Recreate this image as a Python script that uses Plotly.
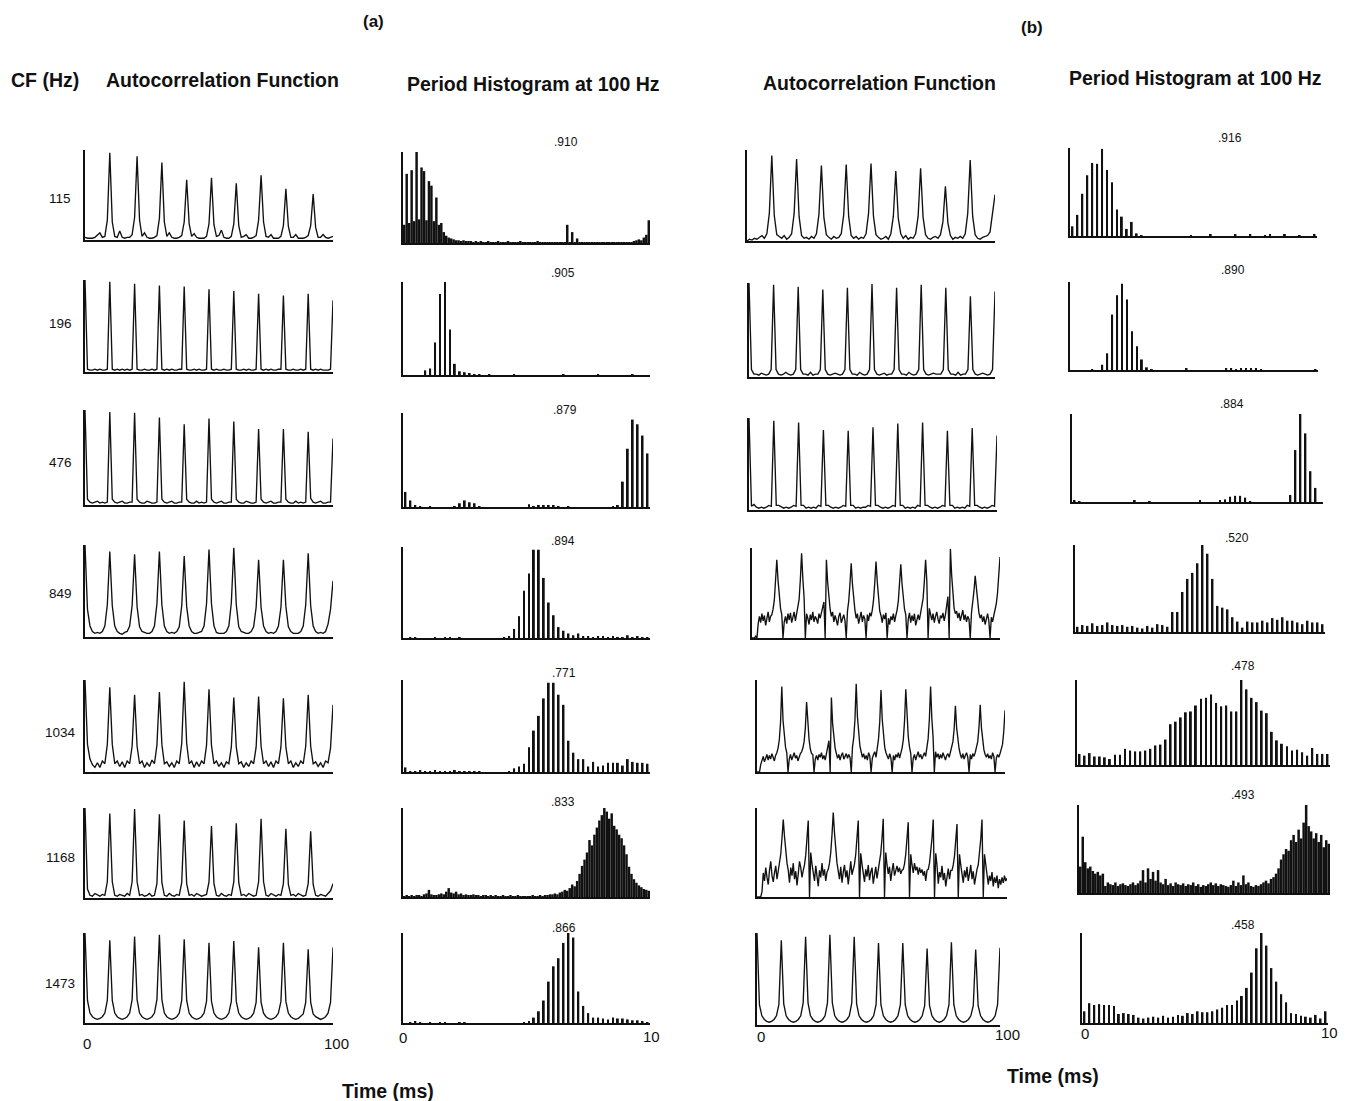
import numpy as np
import plotly.graph_objects as go

W, H = 1348, 1101
OFF = 8  # page body margin compensation (pixels)

# ---------------- text data ----------------
cf_labels = ["115", "196", "476", "849", "1034", "1168", "1473"]
vs_a = [".910", ".905", ".879", ".894", ".771", ".833", ".866"]
vs_b = [".916", ".890", ".884", ".520", ".478", ".493", ".458"]

# ---------------- autocorrelation functions, panel (a), 1 ms steps, 0..100 ms (% of max) ----------------
acf_a_115 = [3,2,2,2,3,5,8,3,4,22, 97,20,4,3,10,3,2,3,3,6, 25,93,22,4,8,3,2,2,3,5,
             24,86,20,4,8,3,2,2,3,5, 20,67,18,4,7,3,2,2,2,4, 18,69,17,4,5,11,3,2,2,4,
             18,63,16,3,4,6,2,2,3,5, 22,72,20,4,3,6,2,2,2,4, 16,57,15,3,3,6,2,2,2,3,
             5,16,51,14,3,3,6,3,2,3, 4]
acf_a_196 = [100,3,2,2,3,2,3,2,2,3, 98,3,2,3,2,3,2,3,2,3, 96,3,2,2,3,2,2,3,2,3,
             94,3,2,3,2,3,2,2,3,3, 93,3,2,2,3,2,3,2,2,3, 90,3,2,3,2,2,3,2,2,3,
             88,3,2,2,3,2,3,2,2,3, 85,3,2,3,2,3,2,2,3,3, 83,3,2,2,3,2,2,3,2,3,
             85,3,2,3,2,3,2,2,2,3, 78]
acf_a_476 = [100,6,3,2,3,4,2,3,2,3, 98,6,3,2,3,4,2,2,3,3, 97,6,3,2,2,4,3,2,2,3,
             92,6,3,2,3,4,2,2,3,3, 85,6,3,2,2,4,2,3,2,3, 91,6,3,2,3,4,2,2,3,3,
             88,6,3,2,2,4,3,2,2,3, 80,6,3,2,3,4,2,2,3,3, 80,6,3,2,2,4,2,3,2,3,
             77,7,3,2,3,4,2,2,3,3, 70]
acf_a_849 = [100,30,12,6,4,5,4,6,12,35, 93,34,12,6,4,3,5,6,12,34, 90,33,11,6,5,4,4,6,12,36,
             93,35,12,6,4,5,4,6,11,34, 88,33,12,6,4,4,5,6,12,36, 95,36,12,5,4,4,4,6,12,37,
             97,35,11,6,5,4,4,6,11,32, 84,32,12,6,4,5,4,6,12,32, 84,33,11,6,4,4,4,6,12,35,
             91,34,12,6,4,5,4,6,14,30, 61]
acf_a_1034 = [100,30,14,8,5,10,5,12,9,30, 92,30,9,12,6,11,5,12,9,28, 84,28,9,12,5,10,6,13,9,29,
              87,30,9,11,6,10,5,12,9,31, 98,31,9,12,5,11,6,12,9,29, 90,29,9,12,6,10,5,11,9,27,
              81,27,9,11,5,10,6,12,9,27, 82,28,9,12,6,11,5,12,9,27, 80,27,9,12,5,10,6,12,9,28,
              84,28,9,11,6,10,5,12,10,26, 73]
acf_a_1168 = [100,10,3,2,5,3,2,4,3,18, 94,18,3,2,4,3,2,5,3,18, 99,18,3,4,2,3,5,2,3,16,
              93,17,3,2,5,3,2,4,3,17, 86,16,3,4,2,5,3,2,3,4, 18,80,16,3,2,5,3,2,4,3,
              18,83,17,3,4,2,5,3,2,3, 18,88,18,3,2,5,3,2,4,3, 16,77,15,3,4,2,5,3,2,3,
              16,74,15,3,2,4,3,2,5,8, 16]
acf_a_1473 = [100,25,11,7,5,4,5,7,11,25, 92,25,11,7,5,4,5,7,11,26, 96,26,11,7,5,4,5,7,11,26,
              98,26,11,7,5,4,5,7,11,25, 93,25,11,7,5,4,5,7,11,24, 89,24,11,7,5,4,5,7,11,24,
              91,24,11,7,5,4,5,7,11,23, 84,23,11,7,5,4,5,7,11,24, 89,24,11,7,5,4,5,7,10,23,
              82,23,10,7,5,4,5,7,11,23, 84]

# ---------------- autocorrelation functions, panel (b) ----------------
acf_b_115 = [0,2,1,3,2,4,6,3,8,30, 94,28,7,5,3,6,2,4,8,30, 90,27,6,3,4,2,5,3,8,29,
             83,26,7,4,2,5,3,4,8,29, 84,27,6,3,5,2,4,3,8,30, 85,27,7,4,2,3,5,2,8,27,
             77,25,8,3,6,2,4,3,8,27, 80,26,7,3,2,4,5,3,7,21, 60,20,6,2,4,3,5,3,8,30,
             89,27,7,3,2,4,5,6,10,30, 51]
acf_b_196 = [100,8,3,3,2,4,3,2,3,8, 98,8,3,2,3,5,3,2,3,8, 96,8,3,3,2,5,2,3,3,8,
             93,8,3,2,3,4,3,2,3,8, 95,8,3,3,2,5,3,2,3,8, 99,8,3,2,3,4,2,3,3,8,
             95,8,3,3,2,5,3,2,3,8, 98,8,3,2,3,4,3,3,3,8, 95,8,3,3,2,5,2,3,3,8,
             86,8,3,2,3,4,3,2,3,8, 91]
acf_b_476 = [100,4,6,3,2,3,2,3,5,4, 97,5,5,3,2,3,2,3,5,4, 95,5,5,2,3,2,3,2,5,4,
             87,5,5,3,2,3,2,3,5,4, 86,5,5,2,3,2,3,3,5,4, 90,5,5,3,2,3,2,3,5,4,
             94,5,5,2,3,2,3,2,5,4, 95,5,5,3,2,3,2,3,5,4, 86,5,5,2,3,2,3,2,5,4,
             89,5,5,3,2,3,2,3,5,4, 81]
# noisy ones: 0.5 ms steps, 0..100 ms
acf_b_849 = [0,0,0,2,0,16,24,17,27,19,25,14,22,29,18,24,26,32,42,62,
             87,64,44,33,26,0,18,24,16,27,20,28,17,23,29,19,27,33,43,65,
             94,66,45,0,27,22,15,26,20,29,18,24,21,16,27,22,28,34,40,0,
             87,62,44,32,24,29,18,25,20,14,24,28,17,23,26,19,0,30,41,60,
             83,60,42,31,22,27,16,24,29,18,25,21,0,26,19,28,24,31,42,61,
             85,63,43,30,25,17,26,21,28,0,22,15,24,20,27,18,25,31,41,58,
             82,60,42,32,26,0,21,28,17,25,19,27,14,22,26,20,27,33,44,63,
             87,63,0,33,26,20,27,17,24,29,21,16,25,22,28,19,26,34,46,0,
             99,70,46,33,27,30,22,28,19,25,31,20,26,18,24,21,0,28,38,52,
             69,52,38,28,22,26,18,24,15,22,27,19,0,23,18,25,30,38,50,68,
             90]
acf_b_1034 = [0,0,0,8,14,17,11,16,19,13,18,14,20,16,12,18,21,26,35,54,
              93,56,37,27,21,0,14,19,13,17,21,15,18,12,17,20,22,26,33,48,
              76,50,35,25,20,19,0,14,18,13,19,16,21,14,18,13,20,26,34,0,
              81,52,36,26,20,15,19,13,18,21,14,17,20,15,19,16,0,27,37,57,
              96,60,39,28,22,16,20,14,18,13,21,17,0,15,19,22,16,27,36,55,
              89,57,37,27,21,17,14,20,15,0,18,13,19,16,21,15,20,26,35,56,
              90,58,38,27,20,0,15,19,13,18,22,16,19,14,18,21,17,27,36,57,
              93,58,38,0,22,16,20,14,19,15,21,17,13,18,20,16,22,26,33,47,
              72,48,33,25,19,15,20,14,18,21,16,0,19,14,20,17,21,26,33,48,
              73,48,33,24,19,16,20,15,18,14,21,17,0,15,19,16,20,24,30,44,
              67]
acf_b_1168 = [0,0,0,0,6,27,18,33,22,14,30,40,24,17,27,35,20,30,36,48,
              66,87,68,50,38,30,16,33,24,38,20,29,13,26,40,33,22,30,36,47,
              65,86,0,50,37,28,18,35,26,12,30,22,38,24,31,18,28,31,38,50,
              70,95,72,52,38,29,20,34,16,28,36,22,30,14,27,40,25,30,37,48,
              65,86,0,49,37,27,17,31,23,36,19,28,33,15,26,34,21,30,37,49,
              66,88,0,50,36,26,34,18,29,38,24,31,35,28,33,26,30,31,37,48,
              64,84,0,48,36,27,38,30,34,25,33,27,31,24,29,18,30,31,38,49,
              66,87,0,49,36,15,28,22,35,19,27,12,25,32,20,30,30,36,46,62,
              82,0,48,36,28,16,30,22,34,18,26,36,20,29,14,25,31,36,48,65,
              87,0,48,36,27,14,24,18,28,12,22,16,24,10,20,14,22,16,24,18,
              21]
acf_b_1473 = [100,22,10,6,4,3,4,6,10,22, 92,23,10,6,4,3,4,6,10,24, 96,24,10,6,4,3,4,6,10,24,
              98,24,10,6,4,3,4,6,10,24, 96,23,10,6,4,3,4,6,10,22, 89,22,10,6,4,3,4,6,10,22,
              89,22,10,6,4,3,4,6,10,21, 83,21,10,6,4,3,4,6,10,22, 90,22,10,6,4,3,4,6,10,21,
              82,21,10,6,4,3,4,6,10,22, 84]

# ---------------- period histograms (% of max), bins across 0..10 ms ----------------
ph_a_115 = [20,76,22,80,24,100,26,83,79,25, 68,63,24,50,20,22,12,8,6,5, 4,3,3,2,3,2,2,2,1,2,
            1,2,1,1,2,1,1,1,2,1, 1,1,2,1,1,1,1,2,1,1, 1,1,1,1,2,1,1,1,1,1,
            1,1,1,1,1,1,20,1,12,1, 5,1,1,1,1,1,1,1,1,1, 1,1,1,1,1,1,1,1,1,1,
            1,1,1,2,3,4,3,6,9,25]
ph_a_196 = [0,0,0,0,5,7,35,87,100,49, 12,4,3,2,1,1,0,1,0,0, 0,0,1,0,0,0,0,0,0,0,
            0,0,1,0,0,0,0,0,0,1, 0,0,0,0,0,0,1,0,0,0]
ph_a_476 = [16,7,2,1,0,1,0,0,0,0, 1,4,7,5,4,1,0,0,0,0, 0,0,0,0,0,3,1,2,2,2,
            2,1,0,1,0,0,0,0,0,0, 0,0,1,2,27,62,93,88,76,57]
ph_a_849 = [0,1,1,0,0,0,1,0,1,1, 0,1,0,0,0,0,0,0,0,0, 1,2,10,24,52,71,97,97,66,39,
            25,12,8,5,3,5,2,2,1,2, 2,1,2,1,1,3,1,2,1,1]
ph_a_1034 = [5,1,1,2,1,1,2,1,1,1, 2,1,1,1,1,1,0,0,0,0, 0,1,4,6,9,27,45,61,80,97,
             97,84,73,34,21,14,14,6,11,6, 7,10,10,10,7,14,11,10,10,9]
ph_a_1168 = [1,2,1,2,1,2,2,1,3,4, 8,3,2,2,3,4,3,6,10,5, 4,6,3,4,2,3,2,2,3,2,
             2,1,2,2,1,2,1,2,1,1, 2,1,1,2,1,1,2,1,1,1, 1,1,2,1,1,2,1,2,2,3,
             3,4,3,5,6,8,7,10,14,12, 18,26,35,42,50,64,58,70,78,86, 92,100,96,88,94,80,76,70,66,58,
             48,34,26,20,16,13,11,9,8,7]
ph_a_1473 = [0,1,2,1,0,1,0,1,1,0, 0,1,1,0,0,0,0,0,0,0, 0,0,0,0,1,2,6,13,25,46,
             63,72,89,100,95,35,19,11,6,6, 5,4,6,5,5,4,3,3,2,1]

ph_b_115 = [11,24,48,69,83,82,99,75,61,30, 22,8,16,3,1,0,0,0,0,0, 0,0,0,0,1,0,0,0,2,0,
            0,0,0,2,0,0,2,0,0,1, 2,0,0,2,0,0,1,0,0,2]
ph_b_196 = [0,0,0,0,1,0,6,19,63,85, 98,80,44,27,12,3,1,0,0,0, 0,0,0,2,0,0,0,0,0,0,
            0,2,2,1,2,2,2,2,1,0, 0,0,0,0,0,0,0,0,0,1]
ph_b_476 = [2,1,0,0,0,0,0,0,0,0, 0,0,2,0,0,1,0,0,0,0, 0,0,0,0,0,2,0,0,0,2,
            3,6,7,7,5,1,0,0,0,0, 0,0,0,8,59,100,78,35,16,0]
ph_b_849 = [6,8,7,10,7,8,11,8,7,8, 6,7,5,4,7,5,9,8,6,23, 23,46,61,68,79,100,90,61,30,28,
            26,17,12,5,12,11,11,13,11,16, 14,17,13,13,11,9,13,11,11,9]
ph_b_1034 = [13,11,14,10,10,9,7,12,12,19, 17,16,16,17,19,23,24,30,48,51, 56,62,63,70,78,79,83,73,69,70,
             63,63,100,89,79,74,64,61,39,29, 25,22,17,18,15,11,20,13,13,13]
ph_b_1168 = [30,64,35,28,30,25,22,24,20,22, 8,12,10,9,12,8,10,11,9,8, 10,12,9,11,14,26,12,28,16,24,
             14,26,12,10,16,9,11,8,12,10, 9,11,8,10,9,12,8,10,7,9, 8,10,12,9,11,8,10,9,8,7,
             9,14,8,12,9,20,10,12,8,7, 9,8,10,12,14,11,16,18,22,28, 38,44,50,48,60,66,58,72,62,80,
             100,76,70,62,68,58,66,52,60,56]
ph_b_1473 = [13,22,20,21,20,20,19,10,11,10, 9,6,5,6,7,6,8,6,7,9, 8,11,10,13,12,12,13,15,17,20,
             20,25,30,39,56,83,100,86,61,46, 32,23,11,10,8,7,6,9,5,13]

acf_a = [acf_a_115, acf_a_196, acf_a_476, acf_a_849, acf_a_1034, acf_a_1168, acf_a_1473]
acf_b = [acf_b_115, acf_b_196, acf_b_476, acf_b_849, acf_b_1034, acf_b_1168, acf_b_1473]
ph_a = [ph_a_115, ph_a_196, ph_a_476, ph_a_849, ph_a_1034, ph_a_1168, ph_a_1473]
ph_b = [ph_b_115, ph_b_196, ph_b_476, ph_b_849, ph_b_1034, ph_b_1168, ph_b_1473]

# ---------------- panel geometry (page pixels) ----------------
col_x = [
    [(85, 333)] * 7,
    [(403, 650)] * 7,
    [(747, 995), (749, 995), (749, 997), (752, 1000), (757, 1005), (757, 1007), (757, 1000)],
    [(1070, 1317), (1070, 1318), (1072, 1323), (1075, 1325), (1077, 1330), (1079, 1330), (1082, 1328)],
]
col_y = [
    [(150, 240), (280, 372), (410, 505), (545, 637), (680, 772), (808, 898), (933, 1023)],
    [(152, 243), (282, 375), (413, 507), (547, 638), (680, 772), (808, 897), (933, 1023)],
    [(150, 241), (283, 377), (418, 510), (548, 638), (680, 772), (808, 897), (933, 1025)],
    [(148, 236), (282, 370), (414, 502), (545, 632), (680, 765), (805, 893), (933, 1023)],
]

INK = "#111111"
FONT = "Liberation Sans, Arial, sans-serif"

fig = go.Figure()
layout = {}


def fx(px):
    return (px - OFF) / W


def fy(py):
    return 1 - (py - OFF) / H


def names(n):
    return ("x" if n == 1 else f"x{n}", "y" if n == 1 else f"y{n}",
            "xaxis" if n == 1 else f"xaxis{n}", "yaxis" if n == 1 else f"yaxis{n}")


def set_axes(n, c, r, xmax):
    xr, yr, xk, yk = names(n)
    x0, x1 = col_x[c][r]
    t, b = col_y[c][r]
    common = dict(showline=True, linecolor=INK, linewidth=1.7, showgrid=False,
                  zeroline=False, showticklabels=False, ticks="", fixedrange=True)
    layout[xk] = dict(domain=[fx(x0), fx(x1)], range=[0, xmax], anchor=yr, **common)
    layout[yk] = dict(domain=[fy(b), fy(t)], range=[0, 100], anchor=xr, **common)


for r in range(7):
    for c in range(4):
        n = r * 4 + c + 1
        xr, yr, _, _ = names(n)
        if c in (0, 2):
            vals = np.array((acf_a if c == 0 else acf_b)[r], float)
            x = np.arange(len(vals)) * (100.0 / (len(vals) - 1))
            fig.add_trace(go.Scatter(x=x, y=vals, mode="lines",
                                     line=dict(color=INK, width=1.35),
                                     xaxis=xr, yaxis=yr, hoverinfo="skip"))
            set_axes(n, c, r, 100)
        else:
            vals = np.array((ph_a if c == 1 else ph_b)[r], float)
            nb = len(vals)
            bw = 10.0 / nb
            x = (np.arange(nb) + 0.5) * bw
            filled = nb > 50
            fig.add_trace(go.Bar(x=x, y=vals, width=bw if filled else 0.075,
                                 marker=dict(color=INK, line=dict(width=0)),
                                 xaxis=xr, yaxis=yr, hoverinfo="skip"))
            set_axes(n, c, r, 10)

ann = []


def text(px, py, s, size, bold=False):
    ann.append(dict(x=fx(px), y=fy(py), xref="paper", yref="paper",
                    text=f"<b>{s}</b>" if bold else s, showarrow=False,
                    xanchor="center", yanchor="middle",
                    font=dict(family=FONT, size=size, color=INK)))


HDR = 19.5
# headers
text(373, 22, "(a)", 17, True)
text(1032, 27, "(b)", 17, True)
text(45, 80, "CF (Hz)", HDR, True)
text(222, 80, "Autocorrelation Function", HDR, True)
text(533, 84, "Period Histogram at 100 Hz", HDR, True)
text(879, 83, "Autocorrelation Function", HDR, True)
text(1195, 78, "Period Histogram at 100 Hz", HDR, True)

# CF labels
cf_y = [198, 323, 462, 593, 732, 857, 983]
for lab, yy in zip(cf_labels, cf_y):
    text(60, yy, lab, 13.5)

# vector strength labels
vs_a_pos = [(566, 142), (563, 273), (565, 410), (563, 541), (564, 673), (563, 802), (564, 928)]
vs_b_pos = [(1230, 138), (1233, 270), (1232, 404), (1237, 538), (1243, 666), (1243, 795), (1243, 925)]
for lab, (xx, yy) in zip(vs_a, vs_a_pos):
    text(xx, yy, lab, 12)
for lab, (xx, yy) in zip(vs_b, vs_b_pos):
    text(xx, yy, lab, 12)

# axis end labels (bottom row only)
text(87, 1043, "0", 15)
text(336, 1043, "100", 15)
text(403, 1037, "0", 15)
text(651, 1036, "10", 15)
text(761, 1036, "0", 15)
text(1007, 1034, "100", 15)
text(1085, 1033, "0", 15)
text(1329, 1032, "10", 15)

# time labels
text(388, 1091, "Time (ms)", HDR, True)
text(1053, 1076, "Time (ms)", HDR, True)

fig.update_layout(width=W, height=H, margin=dict(l=0, r=0, t=0, b=0),
                  paper_bgcolor="white", plot_bgcolor="white",
                  showlegend=False, annotations=ann, **layout)

fig.write_html("out.html")
